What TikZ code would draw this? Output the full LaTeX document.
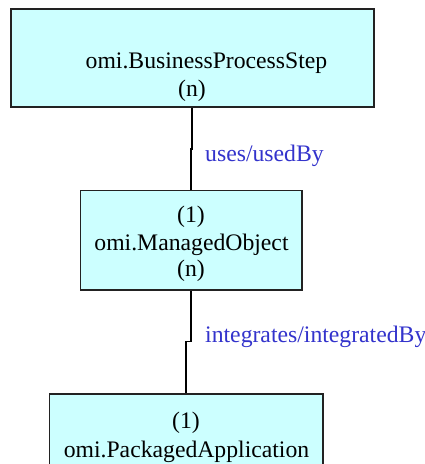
\documentclass[tikz,border=0pt]{standalone}
\usepackage{fontspec}
\setmainfont{Liberation Serif}
\definecolor{boxfill}{HTML}{CCFFFF}
\definecolor{boxline}{HTML}{222222}
\definecolor{labelblue}{HTML}{3333CC}
\tikzset{
  entity/.style={draw=boxline, fill=boxfill, line width=1.4pt, rectangle, inner sep=0pt},
  txt/.style={anchor=base, inner sep=0pt, font=\fontsize{23.7}{27}\selectfont, text=black},
  lbl/.style={anchor=base west, inner sep=0pt, font=\fontsize{23.7}{27}\selectfont, text=labelblue},
  conn/.style={draw=black, line width=1.4pt}
}
\begin{document}
\begin{tikzpicture}[x=1pt,y=-1pt]
\useasboundingbox (0,0) rectangle (425,464);
\fill[white] (0,0) rectangle (425,464);
% boxes
\node[entity, minimum width=363pt, minimum height=98pt] (b1) at (192.5,58) {};
\node[entity, minimum width=221.5pt, minimum height=99.5pt] (b2) at (191.25,240.25) {};
\node[entity, minimum width=273.5pt, minimum height=80pt] (b3) at (186.25,434) {};
% texts
\node[txt] (t1a) at (206.5,68) {omi.BusinessProcessStep};
\node[txt] (t1b) at (192,96) {(n)};
\node[txt] (t2a) at (191,222.5) {(1)};
\node[txt] (t2b) at (191.5,250) {omi.ManagedObject};
\node[txt] (t2c) at (191,276.5) {(n)};
\node[txt] (t3a) at (186,428) {(1)};
\node[txt] (t3b) at (186.5,457) {omi.PackagedApplication};
% connectors
\coordinate (j1a) at (192,149);
\coordinate (j1b) at (191,149);
\coordinate (j2a) at (191,341.5);
\coordinate (j2b) at (186,341.5);
\draw[conn] (b1.south -| j1a) -- (j1a) -- (j1b) -- (b2.north -| j1b);
\draw[conn] (b2.south -| j2a) -- (j2a) -- (j2b) -- (b3.north -| j2b);
% labels
\node[lbl] (l1) at (205,161.5) {uses/usedBy};
\node[lbl] (l2) at (205,342.5) {integrates/integratedBy};
\end{tikzpicture}
\end{document}
